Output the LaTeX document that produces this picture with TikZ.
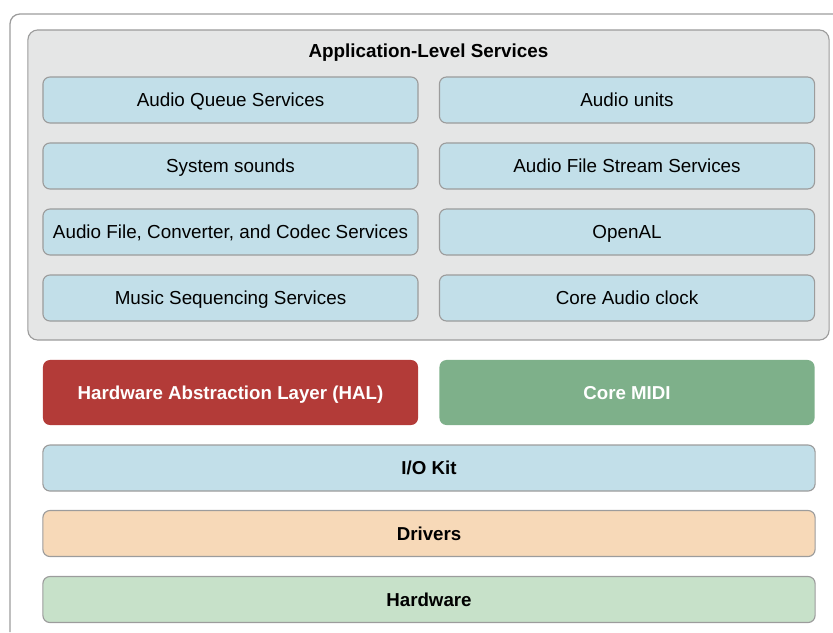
\documentclass[tikz,border=0pt]{standalone}
\usepackage{fontspec}
\setmainfont{Liberation Sans}
\usetikzlibrary{positioning}
\definecolor{boxblue}{HTML}{C2DFE9}
\definecolor{boxgray}{HTML}{E5E6E6}
\definecolor{edgegray}{HTML}{9C9C9C}
\definecolor{halred}{HTML}{B33B38}
\definecolor{midigreen}{HTML}{7EB08A}
\definecolor{drvpeach}{HTML}{F7D9B8}
\definecolor{hwgreen}{HTML}{C7E1C9}
\tikzset{
  label text/.style={text height=1.75ex,text depth=0pt},
  layer/.style={draw=edgegray,line width=0.8pt,rounded corners=5pt,minimum height=1.15cm,label text,font=\fontsize{13.4}{15}\selectfont},
  half/.style={layer,fill=boxblue,minimum width=9.375cm},
  wide/.style={layer,minimum width=19.3cm,font=\fontsize{13.3}{15}\selectfont\bfseries},
  strong/.style={rounded corners=5pt,minimum width=9.375cm,minimum height=1.625cm,label text,text=white,font=\fontsize{13.3}{15}\selectfont\bfseries}
}
\begin{document}
\begin{tikzpicture}[x=0.025cm,y=-0.025cm]
			\useasboundingbox (0,0) rectangle (833,632);
			\draw[edgegray,line width=0.9pt,rounded corners=7pt] (833,14) -- (10,14) -- (10,632);
			\node[draw=edgegray,line width=0.8pt,fill=boxgray,rounded corners=7pt,minimum width=20.025cm,minimum height=7.75cm](app) at (428.5,185) {};
			\node[label text,font=\fontsize{13.4}{15}\selectfont\bfseries](title) at (428.5,50.5) {Application-Level Services};
			\node[half](aq) at (230.5,100) {Audio Queue Services};
			\node[half](au) at (627,100) {Audio units};
			\node[half](ss) at (230.5,166) {System sounds};
			\node[half](afs) at (627,166) {Audio File Stream Services};
			\node[half](afc) at (230.5,232) {Audio File, Converter, and Codec Services};
			\node[half](oal) at (627,232) {OpenAL};
			\node[half](mss) at (230.5,298) {Music Sequencing Services};
			\node[half](cac) at (627,298) {Core Audio clock};
			\node[strong,fill=halred](hal) at (230.5,392.5) {Hardware Abstraction Layer (HAL)};
			\node[strong,fill=midigreen](midi) at (627,392.5) {Core MIDI};
			\node[wide,fill=boxblue](iok) at (429,468) {I/O Kit};
			\node[wide,fill=drvpeach](drv) at (429,533.5) {Drivers};
			\node[wide,fill=hwgreen](hw) at (429,599.5) {Hardware};
\end{tikzpicture}
\end{document}
